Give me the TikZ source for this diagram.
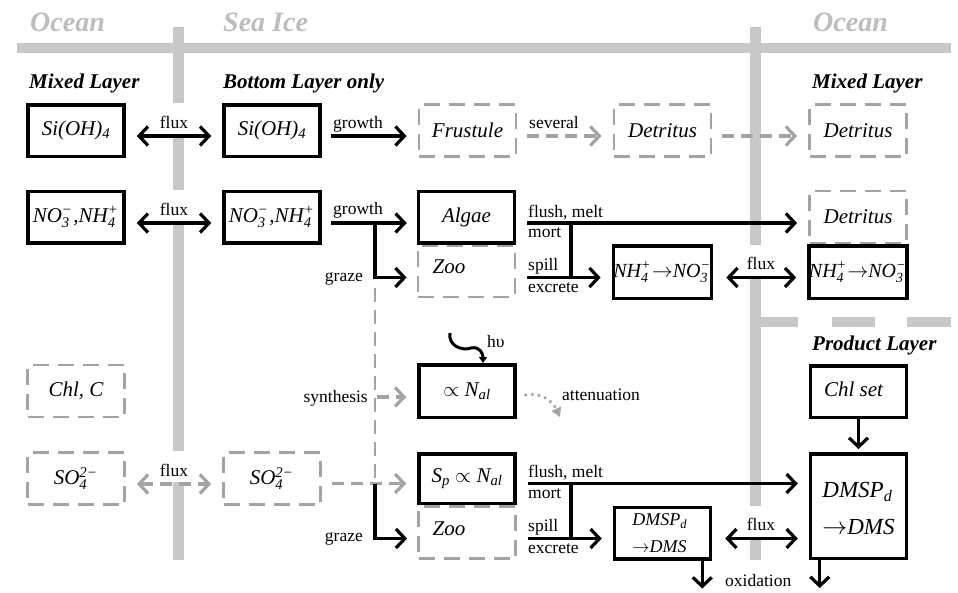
\documentclass[tikz,border=0pt]{standalone}
\usepackage{fontspec}
\setmainfont{Liberation Serif}
\usetikzlibrary{arrows.meta}
\definecolor{barc}{HTML}{C8C8C8}
\definecolor{hdrc}{HTML}{BDBDBD}
\definecolor{dgr}{HTML}{A3A3A3}
\makeatletter
\newcommand\ssp[2]{\ensuremath{^{\mbox{\fontsize\sf@size\z@\selectfont #2}}_{\mbox{\fontsize\sf@size\z@\selectfont #1}}}\kern1pt}
\makeatother
\newcommand\bxf{\fontsize{21}{25}\selectfont\itshape}
\newcommand\nhf{\fontsize{20}{24}\selectfont\itshape}
\newcommand\dmsf{\fontsize{18}{27}\selectfont\itshape}
\newcommand\bigf{\fontsize{23}{37}\selectfont\itshape}
\newcommand\lblf{\fontsize{17.5}{20}\selectfont}
\newcommand\hdrf{\fontsize{28}{32}\selectfont\bfseries\itshape}
\newcommand\layf{\fontsize{21}{24}\selectfont\bfseries\itshape}
\begin{document}
\begin{tikzpicture}[x=1pt,y=-1pt,
  bbox/.style={draw, line width=3.5pt, minimum width=96pt, minimum height=51.5pt, inner sep=0pt, font=\bxf},
  dbox/.style={draw=dgr, line width=2.8pt, dash pattern=on 16pt off 9pt, minimum width=97pt, minimum height=52pt, inner sep=0pt, font=\bxf},
  hd/.tip={Straight Barb[length=9pt,width=19pt]},
  arr/.style={line width=3.2pt, -hd},
  darr/.style={line width=3.2pt, hd-hd},
  garr/.style={arr, draw=dgr, dash pattern=on 12pt off 7pt},
  gdarr/.style={darr, draw=dgr, dash pattern=on 12pt off 7pt},
  lbl/.style={font=\lblf, inner sep=0pt},
  flx/.style={lbl, fill=white, inner xsep=2pt, text height=25pt, text depth=6pt, anchor=south},
  bar/.style={draw=barc, line width=10.5pt},
  hdr/.style={font=\hdrf, text=hdrc, anchor=base west, inner sep=0pt},
  lay/.style={font=\layf, anchor=base west, inner sep=0pt}]
\useasboundingbox (0,0) rectangle (958,592);
% background bars
\draw[bar] (17,48) -- (951,48);
\draw[bar] (178.5,27) -- (178.5,560);
\draw[bar] (755.5,27) -- (755.5,560);
\draw[bar] (755.5,322) -- (798,322);
\draw[bar] (832,322) -- (875,322);
\draw[bar] (907,322) -- (951,322);
% headers
\node[hdr] (ocl) at (30,31) {Ocean};
\node[hdr] (sea) at (223,31) {Sea Ice};
\node[hdr] (ocr) at (813,31) {Ocean};
\node[lay] (mxl) at (29,88) {Mixed Layer};
\node[lay] (bot) at (223,88) {Bottom Layer only};
\node[lay] (mxr) at (812,88) {Mixed Layer};
\node[lay] (prod) at (812,350) {Product Layer};
% row 1
\node[bbox] (SiO) at (76,130.5) {Si(OH)\textsubscript{4}};
\node[bbox] (SiI) at (272,130.5) {Si(OH)\textsubscript{4}};
\node[dbox] (Frus) at (467.5,130.5) {Frustule};
\node[dbox] (DetI) at (662.5,130.5) {Detritus};
\node[dbox] (DetO) at (858,130.5) {Detritus};
% row 2
\node[bbox] (NOo) at (76,217) {NO\ssp{3}{−},NH\ssp{4}{+}};
\node[bbox] (NOi) at (272,217) {NO\ssp{3}{−},NH\ssp{4}{+}};
\node[dbox, minimum height=51pt] (ZooA) at (466.5,271.5) {};
\node[bbox] (Alg) at (466.5,217) {Algae};
\node[font=\bxf, inner sep=0pt] (ZooAt) at (449,266.5) {Zoo};
\node[dbox] (DetO2) at (858,217) {Detritus};
\node[bbox, font=\nhf, minimum height=52.5pt] (NHi) at (662.5,272) {NH\ssp{4}{+}$\rightarrow$NO\ssp{3}{−}};
\node[bbox, font=\nhf, minimum height=52.5pt] (NHo) at (858,272) {NH\ssp{4}{+}$\rightarrow$NO\ssp{3}{−}};
% row 3
\node[dbox] (Chl) at (76,391) {Chl, C};
\node[bbox, minimum height=52.5pt] (Nal) at (467,391) {$\propto$ N\textsubscript{al}};
\node[bbox] (ChlS) at (858.5,391.5) {\raisebox{4pt}{Chl set}\hspace*{10pt}};
% row 4
\node[dbox] (SOo) at (76,478.5) {SO\ssp{4}{2−}};
\node[dbox] (SOi) at (272,478.5) {SO\ssp{4}{2−}};
\node[dbox, minimum height=52pt] (ZooB) at (467,532.5) {};
\node[bbox, minimum height=49.5pt] (Sp) at (467,478.5) {S\textsubscript{p} $\propto$ N\textsubscript{al}};
\node[font=\bxf, inner sep=0pt] (ZooBt) at (449,528.5) {Zoo};
\node[bbox, font=\dmsf, align=left] (DMSi) at (662.5,533) {DMSP\textsubscript{d}\\$\rightarrow$DMS\hspace*{6pt}};
\node[bbox, minimum height=104.5pt, font=\bigf, align=left] (DMSo) at (858.5,506) {\rule{0pt}{21pt}DMSP\textsubscript{d}\\$\rightarrow$DMS};
% flux labels (white background cuts the bars)
\node[flx] (fx1) at (174,134.5) {flux};
\node[flx] (fx2) at (174,221.5) {flux};
\node[flx] (fx3) at (174,482.5) {flux};
\node[flx] (fx4) at (761,276) {flux};
\node[flx] (fx5) at (761,537) {flux};
% other labels
\node[lbl, anchor=base west] (gr1) at (333,128) {growth};
\node[lbl, anchor=base west] (sev) at (529,128) {several};
\node[lbl, anchor=base west] (gr2) at (333,214) {growth};
\node[lbl, anchor=base east] (gz1) at (363,281) {graze};
\node[lbl, anchor=base east] (gz2) at (363,541) {graze};
\node[lbl, anchor=base east] (syn) at (368,402) {synthesis};
\node[lbl, anchor=base west] (hv) at (487,347) {hυ};
\node[lbl, anchor=base west] (att) at (562,400) {attenuation};
\node[lbl, anchor=base west] (fm2) at (528,217) {flush, melt};
\node[lbl, anchor=base west] (mo2) at (528,237) {mort};
\node[lbl, anchor=base west] (sp2) at (528,270) {spill};
\node[lbl, anchor=base west] (ex2) at (528,292) {excrete};
\node[lbl, anchor=base west] (fm4) at (528,477) {flush, melt};
\node[lbl, anchor=base west] (mo4) at (528,498) {mort};
\node[lbl, anchor=base west] (sp4) at (528,531) {spill};
\node[lbl, anchor=base west] (ex4) at (528,553) {excrete};
\node[lbl, anchor=base west] (oxi) at (725,586) {oxidation};
% coordinates
\coordinate (g2) at (375,223);
\coordinate (m2) at (571,223);
\coordinate (dv0) at (375,288);
\coordinate (g4) at (375,483.5);
\coordinate (m4) at (571,483.5);
\coordinate (sy) at (377,397);
\coordinate (hv0) at (450,333);
\coordinate (at1) at (560,417);
% row 1 connectors
\draw[darr] ([xshift=11pt,yshift=-5.5pt]SiO.east) -- ([xshift=-11pt,yshift=-5.5pt]SiI.west);
\draw[arr] ([xshift=9pt,yshift=-5.5pt]SiI.east) -- ([xshift=-11pt,yshift=-5.5pt]Frus.west);
\draw[garr] ([xshift=10pt,yshift=-5.5pt]Frus.east) -- ([xshift=-11pt,yshift=-5.5pt]DetI.west);
\draw[garr] ([xshift=10pt,yshift=-5.5pt]DetI.east) -- ([xshift=-11pt,yshift=-5.5pt]DetO.west);
% row 2 connectors
\draw[darr] ([xshift=11pt,yshift=-6pt]NOo.east) -- ([xshift=-11pt,yshift=-6pt]NOi.west);
\draw[arr] ([xshift=9pt,yshift=-6pt]NOi.east) -- ([xshift=-10pt,yshift=-6pt]Alg.west);
\draw[arr] (g2) |- ([xshift=-10pt,yshift=-6pt]ZooA.west);
\draw[arr] ([xshift=11pt,yshift=-6pt]Alg.east) -- ([xshift=-11pt,yshift=-6pt]DetO2.west);
\draw[line width=3.2pt] (m2) -- ++(0,54.5);
\draw[arr] ([xshift=11pt,yshift=-6pt]ZooA.east) -- ([xshift=-11pt,yshift=-5.5pt]NHi.west);
\draw[darr] ([xshift=13pt,yshift=-5.5pt]NHi.east) -- ([xshift=-11pt,yshift=-5.5pt]NHo.west);
% middle
\draw[dgr, line width=2.8pt, dash pattern=on 14pt off 8pt] (dv0) -- (g4);
\draw[garr] (sy) -- ([xshift=-11pt,yshift=-6pt]Nal.west);
\draw[line width=3pt, -{Triangle[length=6pt,width=8pt]}] (hv0) .. controls (448,346) and (462,351) .. (471,348) .. controls (480,346) and (483,354) .. ([xshift=16pt]Nal.north);
\draw[dgr, line width=3.5pt, line cap=round, dash pattern=on 0.1pt off 6.5pt, -{Triangle[length=9pt,width=10pt]}] ([xshift=9pt,yshift=-4pt]Nal.east) .. controls (540,392) and (552,400) .. (at1);
\draw[arr] (ChlS.south) -- ([yshift=3pt]DMSo.north);
% row 4 connectors
\draw[gdarr] ([xshift=11pt,yshift=-5.5pt]SOo.east) -- ([xshift=-11pt,yshift=-5.5pt]SOi.west);
\draw[garr] ([xshift=10pt,yshift=-5pt]SOi.east) -- ([xshift=-11pt,yshift=-5pt]Sp.west);
\draw[arr] (g4) |- ([xshift=-10pt,yshift=-6pt]ZooB.west);
\draw[arr] ([xshift=11pt,yshift=-5pt]Sp.east) -- ([xshift=-11pt,yshift=22.5pt]DMSo.west);
\draw[line width=3.2pt] (m4) -- ++(0,55);
\draw[arr] ([xshift=11pt,yshift=-6pt]ZooB.east) -- ([xshift=-11pt,yshift=-5.5pt]DMSi.west);
\draw[darr] ([xshift=13pt,yshift=-5.5pt]DMSi.east) -- ([xshift=-11pt,yshift=-32.5pt]DMSo.west);
\draw[arr] ([xshift=-10pt]DMSi.south east) -- ++(0,28);
\draw[arr] ([xshift=11pt]DMSo.south west) -- ++(0,28);
\end{tikzpicture}
\end{document}
